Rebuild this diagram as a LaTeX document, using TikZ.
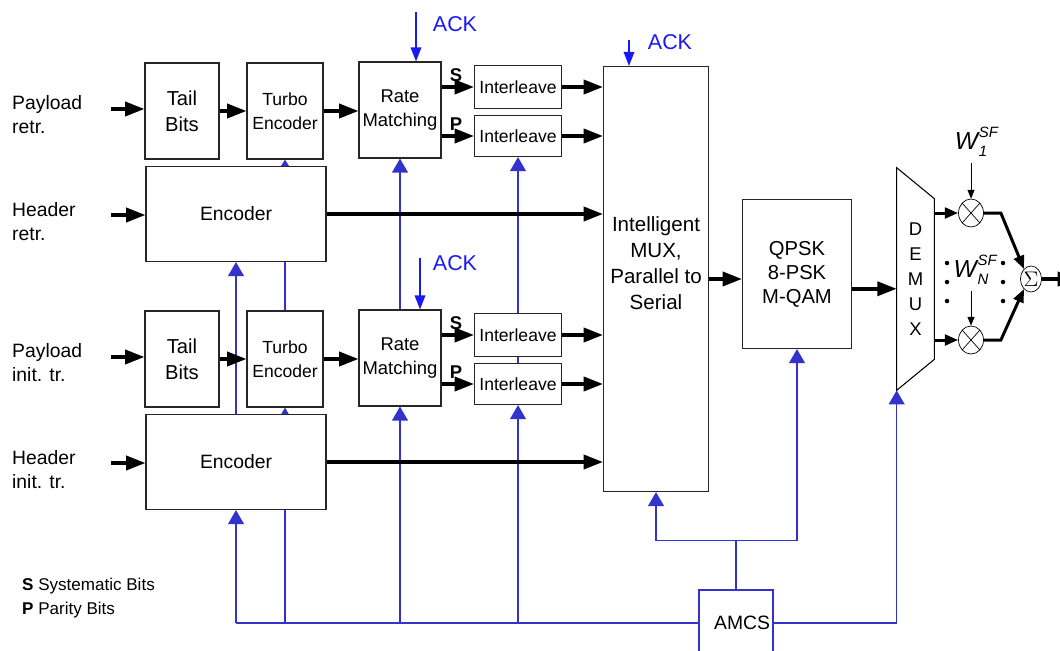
\documentclass[tikz,border=0pt]{standalone}
\usepackage{fontspec}
\setmainfont{Liberation Sans}
\usetikzlibrary{arrows.meta,shapes.geometric,backgrounds}
\definecolor{ackblue}{RGB}{25,25,245}
\definecolor{ctlblue}{RGB}{51,51,204}
\newcommand\wsf[1]{\fontsize{14}{14}\selectfont\itshape W\kern0.5pt\rlap{\raisebox{6.5pt}{\fontsize{8.5}{8.5}\selectfont SF}}\raisebox{-4pt}{\fontsize{8.5}{8.5}\selectfont #1}}

\begin{document}
\begin{tikzpicture}[x=0.02cm,y=-0.02cm]
  \tikzset{blk/.style 2 args={draw=black!85,line width=0.6pt,fill=white,inner sep=0pt,align=center,minimum width=#1*0.02cm,minimum height=#2*0.02cm},
    fs/.style 2 args={font=\fontsize{#1}{#2}\selectfont},
    bk/.style={line width=2pt,-{Triangle[length=11pt,width=8pt]}},
    bkm/.style={line width=1.7pt,-{Triangle[length=7.5pt,width=6pt]}},
    fb/.style={ctlblue,line width=0.9pt},
    fbt/.style={fb,-{Triangle[length=8pt,width=9pt]}},
    ack/.style={ackblue,line width=0.9pt,-{Triangle[length=8pt,width=6pt]}},
    lbl/.style={anchor=west,align=left,fs={11}{13.6}},
    mult/.style={ellipse,draw,fill=white,inner sep=0pt,minimum width=0.5cm,minimum height=0.56cm,
      path picture={\draw (path picture bounding box.north west) -- (path picture bounding box.south east)
        (path picture bounding box.north east) -- (path picture bounding box.south west);}}}
  \useasboundingbox (0,0) rectangle (1060,650);
  \clip (0,0) rectangle (1060,650);

  \node[blk={105}{425}] (mux) at (656,279) {};
  \node[align=center,fs={11.7}{14.8}] (muxt) at (656,263) {Intelligent\\MUX,\\Parallel to\\Serial};
  \node[blk={109}{149},fs={11.5}{13.6}] (mod) at (797,274) {QPSK\\8-PSK\\M-QAM};
  \node[blk={74}{66},draw=ctlblue,fs={11}{13}] (amcs) at (736,623) {\hspace{7pt}AMCS};

  % two identical coding chains
  \foreach \i/\dy/\pl/\hl in {1/0/{Payload\\retr.}/{Header\\retr.},2/248/{Payload\\init. tr.}/{Header\\init. tr.}}{
    \node[blk={74}{96},fs={11.5}{15}] (tb\i) at (182,111+\dy) {Tail\\Bits};
    \node[blk={76}{96},fs={10}{13.6}] (te\i) at (285,111+\dy) {Turbo\\Encoder};
    \node[blk={180}{95},fs={11}{13}] (en\i) at (236,214+\dy) {Encoder};
    \node[blk={82}{96},fs={10.5}{13.6}] (rm\i) at (400,110+\dy) {Rate\\Matching};
    \node[blk={87}{43},fs={10}{12}] (is\i) at (518,87+\dy) {Interleave};
    \node[blk={87}{41},fs={10}{12}] (ip\i) at (518,136+\dy) {Interleave};
    \node[lbl] (pl\i) at (6,115+\dy) {\pl};
    \node[lbl] (hl\i) at (6,222+\dy) {\hl};
    \node[font=\bfseries\fontsize{10.5}{12}\selectfont] (s\i) at (456,75+\dy) {S};
    \node[font=\bfseries\fontsize{10.5}{12}\selectfont] (p\i) at (456,124+\dy) {P};
    \coordinate (pin\i) at (111,109+\dy);
    \coordinate (hin\i) at (111,215+\dy);
    \draw[bk] (pin\i) -- (pin\i -| tb\i.west);
    \draw[bk] (hin\i) -- (hin\i -| en\i.west);
    \draw[bk] (tb\i) -- (te\i);
    \draw[bk] (te\i.east) -- (te\i.east -| rm\i.west);
    \draw[bk] (rm\i.east |- is\i) -- (is\i);
    \draw[bk] (rm\i.east |- ip\i) -- (ip\i);
    \draw[bk] (is\i) -- (is\i -| mux.west);
    \draw[bk] (ip\i) -- (ip\i -| mux.west);
    \draw[bk] (en\i) -- (en\i -| mux.west);
  }

  % ACK inputs
  \coordinate (a1) at (416,12);
  \coordinate (a2) at (629,40);
  \coordinate (a3) at (420,258);
  \draw[ack] (a1) -- (a1 |- rm1.north);
  \draw[ack] (a2) -- (a2 |- mux.north);
  \draw[ack] (a3) -- (a3 |- rm2.north);
  \node[ackblue,fs={12.2}{14}] (ack1) at (455,24) {ACK};
  \node[ackblue,fs={12.2}{14}] (ack2) at (670,42) {ACK};
  \node[ackblue,fs={12.2}{14}] (ack3) at (455,263) {ACK};

  % control bus from AMCS
  \coordinate (bus) at (236,623);
  \begin{scope}[on background layer]
    \draw[fb,line width=1.3pt] (bus) -- (amcs.west);
    \draw[fbt] (bus) -- (en2.south);
    \draw[fbt] (en2.south) -- (en1.south);
    \draw[fbt] (bus -| te2) -- (te2.south);
    \draw[fb,-{Triangle[length=5pt,width=6pt]}] (te2.south) -- (te1.south);
    \draw[fbt] (bus -| rm2) -- (rm2.south);
    \draw[fbt] (rm2.south) -- (rm1.south);
    \draw[fbt] (bus -| ip2) -- (ip2.south);
    \draw[fbt] (ip2.south) -- (ip1.south);
  \end{scope}
  \coordinate (cj) at ([yshift=0.98cm]amcs.north);
  \draw[fb] (amcs.north) -- (cj);
  \draw[fbt] (cj) -| (mux.south);
  \draw[fbt] (cj) -| (mod.south);

  % demux and spreading
  \node[minimum width=0.74cm,minimum height=4.44cm,inner sep=0pt,align=center,fs={10.5}{14.3}] (dmx) at (915.5,279) {D\\E\\M\\U\\X};
  \draw[line width=0.6pt] (dmx.north west) -- ([yshift=-0.62cm]dmx.north east)
    -- ([yshift=0.62cm]dmx.south east) -- (dmx.south west) -- cycle;
  \draw[fbt] (amcs.east) -| (dmx.south west);
  \draw[bk] (mux) -- (mux -| mod.west);
  \draw[bk] (mod.-15) -- (mod.-15 -| dmx.west);

  \node[mult] (m1) at (971,213) {};
  \node[mult] (m2) at (971,340) {};
  \node[ellipse,draw,inner sep=0pt,minimum width=0.42cm,minimum height=0.52cm] (sg) at (1031,279) {\large$\Sigma$};
  \node (w1) at (971,142) {\wsf{1}};
  \node (wn) at (971,270) {\wsf{N}};
  \draw[-{Triangle[length=5pt,width=4pt]}] (w1.south -| m1) -- (m1);
  \draw[-{Triangle[length=5pt,width=4pt]}] (wn.south -| m2) -- (m2);
  \foreach \x in {947,1003} \foreach \y in {263,282,301} \fill (\x,\y) circle (0.045cm);
  \draw[bkm] (dmx.east |- m1) -- (m1);
  \draw[bkm] (dmx.east |- m2) -- (m2);
  \draw[bkm] (m1.east) -- ([xshift=0.34cm]m1.east) -- (sg.125);
  \draw[bkm] (m2.east) -- ([xshift=0.34cm]m2.east) -- (sg.235);
  \coordinate (out) at (1077,279);
  \draw[bk] (sg) -- (out);

  \node[anchor=west,fs={9.7}{12}] (lgs) at (16,586) {\textbf{S} Systematic Bits};
  \node[anchor=west,fs={9.7}{12}] (lgp) at (16,610) {\textbf{P} Parity Bits};
\end{tikzpicture}
\end{document}
